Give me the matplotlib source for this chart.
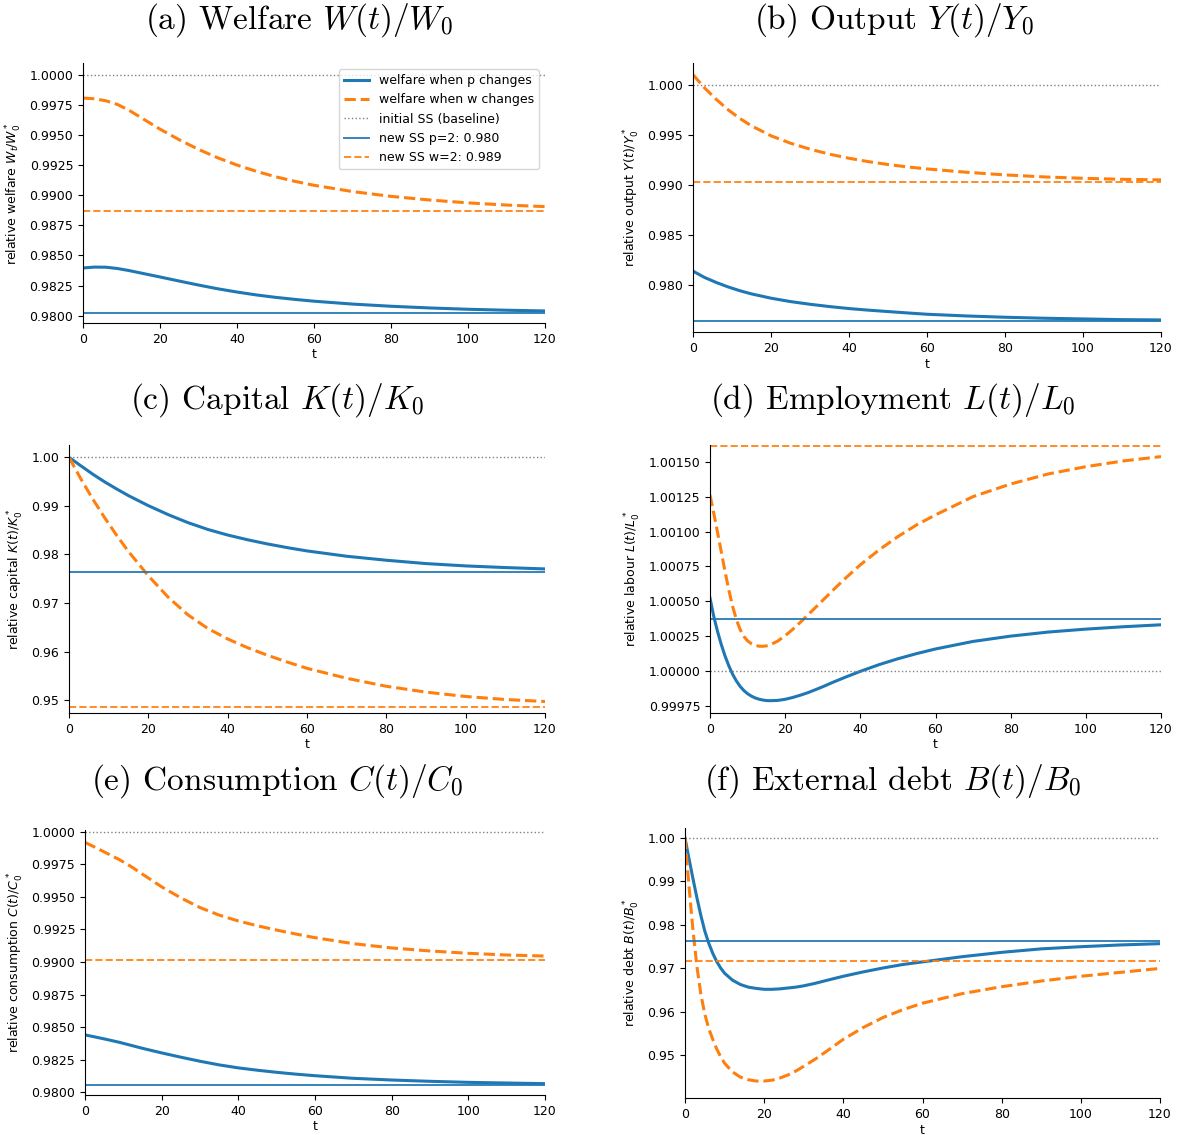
import matplotlib
matplotlib.use("Agg")
import matplotlib.pyplot as plt
from matplotlib.ticker import MultipleLocator, ScalarFormatter

# time grids
t_main = [0, 3, 6, 9, 12, 15, 20, 25, 30, 35, 40, 45, 50, 55, 60, 70, 80, 90, 100, 110, 120]
t_lab = [0, 1, 2, 3, 4, 5, 6, 7, 8, 9, 10, 11, 12, 13, 14, 15, 16, 18, 20, 22, 24, 26, 28, 30,
         33, 36, 40, 45, 50, 55, 60, 70, 80, 90, 100, 110, 120]
t_debt = [0, 1, 2, 3, 4, 5, 6, 7, 8, 9, 10, 12, 14, 16, 18, 20, 22, 24, 26, 28, 30, 33, 36, 40,
          45, 50, 55, 60, 70, 80, 90, 100, 110, 120]

# (a) welfare
welfare_p = [0.98396, 0.98403, 0.98402, 0.98391, 0.98374, 0.98354, 0.98321, 0.98287, 0.98254, 0.98223,
             0.98196, 0.98172, 0.98152, 0.98135, 0.98120, 0.98096, 0.98078, 0.98064, 0.98053, 0.98045,
             0.98039]
welfare_w = [0.99806, 0.99800, 0.99783, 0.99752, 0.99704, 0.99645, 0.99548, 0.99460, 0.99380, 0.99310,
             0.99250, 0.99198, 0.99153, 0.99115, 0.99082, 0.99030, 0.98990, 0.98960, 0.98936, 0.98918,
             0.98905]
ss_welfare = (0.98022, 0.98871)

# (b) output
output_p = [0.98134, 0.98070, 0.98020, 0.97976, 0.97938, 0.97906, 0.97863, 0.97829, 0.97802, 0.97779,
            0.97759, 0.97743, 0.97729, 0.97715, 0.97702, 0.97685, 0.97672, 0.97662, 0.97655, 0.97648,
            0.97645]
output_w = [1.00104, 0.99970, 0.99855, 0.99752, 0.99665, 0.99591, 0.99491, 0.99417, 0.99357, 0.99307,
            0.99266, 0.99232, 0.99203, 0.99179, 0.99159, 0.99126, 0.99099, 0.99079, 0.99065, 0.99055,
            0.99049]
ss_output = (0.97635, 0.99025)

# (c) capital
capital_p = [1.0, 0.99825, 0.99652, 0.99494, 0.99349, 0.99211, 0.99005, 0.98820, 0.98655, 0.98515,
             0.98400, 0.98303, 0.98217, 0.98141, 0.98073, 0.97963, 0.97881, 0.97812, 0.97764, 0.97730,
             0.97702]
capital_w = [1.0, 0.99555, 0.99140, 0.98755, 0.98395, 0.98060, 0.97560, 0.97120, 0.96755, 0.96475,
             0.96260, 0.96080, 0.95925, 0.95785, 0.95655, 0.95450, 0.95285, 0.95165, 0.95075, 0.95013,
             0.94972]
ss_capital = (0.97640, 0.94849)

# (d) employment
labour_p = [1.000524, 1.000393, 1.000286, 1.000192, 1.000110, 1.000040, 0.999980, 0.999932, 0.999893,
            0.999863, 0.999840, 0.999823, 0.999810, 0.999801, 0.999795, 0.999791, 0.999790, 0.999792,
            0.999800, 0.999813, 0.999829, 0.999847, 0.999868, 0.999890, 0.999925, 0.999958, 1.000000,
            1.000048, 1.000090, 1.000127, 1.000160, 1.000214, 1.000252, 1.000281, 1.000302, 1.000319,
            1.000333]
labour_w = [1.001262, 1.001130, 1.000995, 1.000855, 1.000714, 1.000583, 1.000466, 1.000372, 1.000300,
            1.000250, 1.000218, 1.000198, 1.000186, 1.000180, 1.000179, 1.000182, 1.000190, 1.000216,
            1.000255, 1.000300, 1.000350, 1.000402, 1.000455, 1.000508, 1.000588, 1.000665, 1.000762,
            1.000869, 1.000964, 1.001048, 1.001119, 1.001250, 1.001340, 1.001412, 1.001464, 1.001505,
            1.001536]
ss_labour = (1.000374, 1.001612)

# (e) consumption
cons_p = [0.98441, 0.98423, 0.98404, 0.98384, 0.98361, 0.98338, 0.98303, 0.98270, 0.98239, 0.98211,
          0.98188, 0.98170, 0.98154, 0.98140, 0.98128, 0.98108, 0.98095, 0.98085, 0.98077, 0.98072,
          0.98067]
cons_w = [0.99918, 0.99875, 0.99830, 0.99785, 0.99733, 0.99674, 0.99577, 0.99492, 0.99418, 0.99360,
          0.99315, 0.99278, 0.99245, 0.99215, 0.99187, 0.99141, 0.99108, 0.99085, 0.99067, 0.99054,
          0.99046]
ss_cons = (0.98057, 0.99013)

# (f) external debt
debt_p = [1.0, 0.9953, 0.9907, 0.9863, 0.9822, 0.9786, 0.9758, 0.9735, 0.9716, 0.9701, 0.9689, 0.9673,
          0.9663, 0.9657, 0.9654, 0.9652, 0.9652, 0.9653, 0.9655, 0.9657, 0.9660, 0.9666, 0.9673,
          0.9682, 0.9692, 0.9701, 0.9709, 0.9715, 0.9727, 0.9737, 0.9745, 0.9750, 0.9754, 0.9757]
debt_w = [1.0, 0.9890, 0.9789, 0.9705, 0.9641, 0.9595, 0.9562, 0.9537, 0.9515, 0.9497, 0.9482, 0.9462,
          0.9450, 0.9444, 0.9441, 0.9441, 0.9443, 0.9448, 0.9455, 0.9464, 0.9475, 0.9492, 0.9511,
          0.9537, 0.9564, 0.9587, 0.9605, 0.9620, 0.9642, 0.9658, 0.9671, 0.9682, 0.9691, 0.9700]
ss_debt = (0.9762, 0.9716)

W, H = 1183, 1135
fig = plt.figure(figsize=(W / 100, H / 100), dpi=100)


def add_ax(left, right, top, bottom):
    return fig.add_axes([left / W, 1 - bottom / H, (right - left) / W, (bottom - top) / H])


panels = [
    # title, title pos, axes box (px), t, p, w, ss, ylabel, ylim, ystep
    ("(a) Welfare $W(t)/W_0$", (299, 20), (83, 545, 63, 323), t_main, welfare_p, welfare_w, ss_welfare,
     "relative welfare $W_t/W_0^*$", (0.97939, 1.00097), 0.0025),
    ("(b) Output $Y(t)/Y_0$", (894, 20), (693, 1161, 63, 332), t_main, output_p, output_w, ss_output,
     "relative output $Y(t)/Y_0^*$", (0.97524, 1.00221), 0.005),
    ("(c) Capital $K(t)/K_0$", (277, 400), (69, 545, 445, 713), t_main, capital_p, capital_w, ss_capital,
     "relative capital $K(t)/K_0^*$", (0.94735, 1.00254), 0.01),
    ("(d) Employment $L(t)/L_0$", (893, 400), (710, 1161, 445, 713), t_lab, labour_p, labour_w, ss_labour,
     "relative labour $L(t)/L_0^*$", (0.999702, 1.001619), 0.00025),
    ("(e) Consumption $C(t)/C_0$", (277, 781), (85, 545, 830, 1095), t_main, cons_p, cons_w, ss_cons,
     "relative consumption $C(t)/C_0^*$", (0.97980, 1.00013), 0.0025),
    ("(f) External debt $B(t)/B_0$", (893, 781), (685, 1160, 828, 1098), t_debt, debt_p, debt_w, ss_debt,
     "relative debt $B(t)/B_0^*$", (0.9402, 1.0023), 0.01),
]

for i, (title, tpos, box, t, yp, yw, ss, ylabel, ylim, ystep) in enumerate(panels):
    ax = add_ax(*box)
    ax.plot(t, yp, color="C0", lw=2.2, label="welfare when p changes")
    ax.plot(t, yw, color="C1", lw=2.2, ls="--", label="welfare when w changes")
    ax.axhline(1.0, color="gray", ls=":", lw=1.0, label="initial SS (baseline)")
    ax.axhline(ss[0], color="C0", lw=1.4, alpha=0.9, label=f"new SS p=2: {ss[0]:.3f}")
    ax.axhline(ss[1], color="C1", lw=1.4, ls="--", alpha=0.9, label=f"new SS w=2: {ss[1]:.3f}")
    ax.set_xlim(0, 120)
    ax.set_ylim(*ylim)
    ax.xaxis.set_major_locator(MultipleLocator(20))
    ax.yaxis.set_major_locator(MultipleLocator(ystep))
    ax.yaxis.set_major_formatter(ScalarFormatter(useOffset=False))
    ax.tick_params(labelsize=9)
    ax.set_xlabel("t", fontsize=9, labelpad=2)
    ax.set_ylabel(ylabel, fontsize=9)
    ax.spines["top"].set_visible(False)
    ax.spines["right"].set_visible(False)
    if i == 0:
        ax.legend(loc="upper right", fontsize=9)
    fig.text(tpos[0] / W, 1 - tpos[1] / H, title, ha="center", va="center", fontsize=24,
             family="cmr10", math_fontfamily="cm")

fig.savefig("out.png", dpi=100)
